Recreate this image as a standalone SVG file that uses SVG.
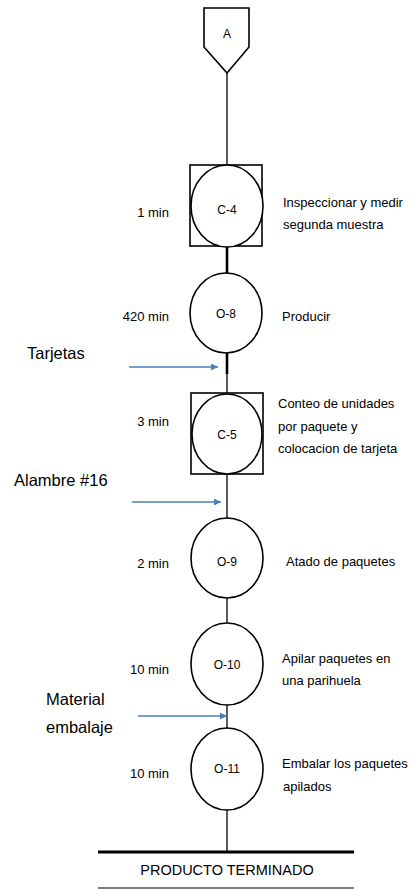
<svg xmlns="http://www.w3.org/2000/svg" width="418" height="890" viewBox="0 0 418 890">
<style>
.sh{fill:#fff;stroke:#000;stroke-width:1.6}
.ln{stroke:#000;stroke-width:1.3;fill:none}
.tk{stroke:#000;stroke-width:2.6;fill:none}
.ar{stroke:#4A7EBB;stroke-width:1.3;fill:none}
text{font-family:"Liberation Sans",Arial,sans-serif;fill:#000}
.c{font-size:12px;text-anchor:middle}
.s{font-size:13px}
.m{font-size:13px;text-anchor:end}
.b{font-size:16.5px}
</style>
<defs>
<marker id="ah" viewBox="0 0 10 10" refX="10" refY="5" markerWidth="9" markerHeight="7" markerUnits="userSpaceOnUse" orient="auto">
<path d="M0,0 L10,5 L0,10 Z" fill="#4A7EBB"/>
</marker>
</defs>
<g id="connectors">
<line class="ln" x1="227" y1="73" x2="227" y2="165"/>
<line class="tk" x1="227" y1="246" x2="227" y2="273"/>
<line class="tk" x1="227" y1="353" x2="227" y2="374"/>
<line class="ln" x1="227" y1="374" x2="227" y2="393"/>
<line class="ln" x1="227" y1="474" x2="227" y2="518"/>
<line class="ln" x1="227" y1="598" x2="227" y2="623"/>
<line class="ln" x1="227" y1="705" x2="227" y2="728"/>
<line class="ln" x1="227" y1="810" x2="227" y2="852"/>
<line class="ar" x1="129" y1="367" x2="218" y2="367" marker-end="url(#ah)"/>
<line class="ar" x1="132" y1="502" x2="221" y2="502" marker-end="url(#ah)"/>
<line class="ar" x1="138" y1="716" x2="227" y2="716" marker-end="url(#ah)"/>
</g>
<g id="A">
<path class="sh" d="M204,8 H249 V47 L227,73 L204,47 Z"/>
<text class="c" x="227" y="38">A</text>
</g>
<g id="C-4">
<rect class="sh" x="190" y="165" width="72" height="81"/>
<ellipse class="sh" cx="227" cy="206" rx="36" ry="41"/>
<text class="c" x="227" y="214">C-4</text>
<text class="m" x="169" y="217">1 min</text>
<text class="s" x="283" y="207">Inspeccionar y medir</text>
<text class="s" x="283" y="229">segunda muestra</text>
</g>
<g id="O-8">
<ellipse class="sh" cx="226" cy="313" rx="36" ry="40"/>
<text class="c" x="226" y="318">O-8</text>
<text class="m" x="169" y="321">420 min</text>
<text class="s" x="282" y="321">Producir</text>
</g>
<g id="Tarjetas">
<text class="b" x="27" y="359">Tarjetas</text>
</g>
<g id="C-5">
<rect class="sh" x="191" y="393" width="72" height="81"/>
<ellipse class="sh" cx="227" cy="434" rx="35" ry="40"/>
<text class="c" x="227" y="439">C-5</text>
<text class="m" x="169" y="426">3 min</text>
<text class="s" x="278" y="408">Conteo de unidades</text>
<text class="s" x="278" y="431">por paquete y</text>
<text class="s" x="278" y="453">colocacion de tarjeta</text>
</g>
<g id="Alambre">
<text class="b" x="14" y="486">Alambre #16</text>
</g>
<g id="O-9">
<ellipse class="sh" cx="227" cy="558" rx="36" ry="40"/>
<text class="c" x="227" y="566">O-9</text>
<text class="m" x="169" y="568">2 min</text>
<text class="s" x="286" y="566">Atado de paquetes</text>
</g>
<g id="O-10">
<ellipse class="sh" cx="227" cy="664" rx="36" ry="41"/>
<text class="c" x="227" y="669">O-10</text>
<text class="m" x="169" y="674">10 min</text>
<text class="s" x="282" y="663">Apilar paquetes en</text>
<text class="s" x="282" y="685">una parihuela</text>
</g>
<g id="Material">
<text class="b" x="46" y="705">Material</text>
<text class="b" x="46" y="733">embalaje</text>
</g>
<g id="O-11">
<ellipse class="sh" cx="227" cy="769" rx="36" ry="41"/>
<text class="c" x="227" y="773">O-11</text>
<text class="m" x="169" y="778">10 min</text>
<text class="s" x="282" y="768">Embalar los paquetes</text>
<text class="s" x="283" y="791">apilados</text>
</g>
<g id="producto">
<line stroke="#000" stroke-width="3" x1="98" y1="852" x2="354" y2="852"/>
<text x="227" y="875" font-size="14.5" text-anchor="middle">PRODUCTO TERMINADO</text>
<line stroke="#000" stroke-width="1.2" x1="98" y1="888" x2="354" y2="888"/>
</g>
</svg>
